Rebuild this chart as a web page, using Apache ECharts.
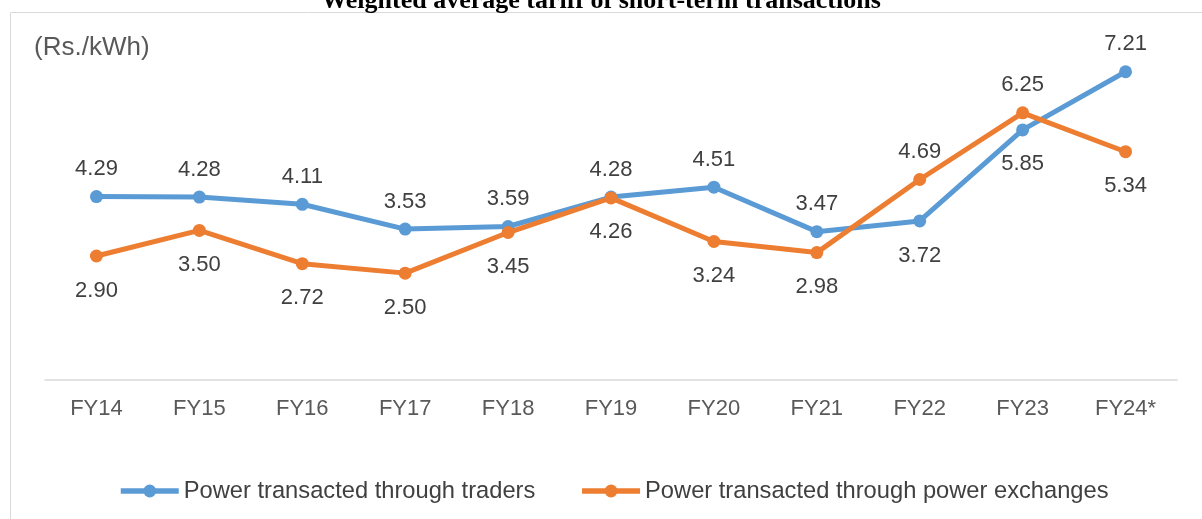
<!DOCTYPE html>
<html>
<head>
<meta charset="utf-8">
<script src="https://cdn.jsdelivr.net/npm/echarts@6/dist/echarts.min.js"></script>
<style>
  html, body { margin: 0; padding: 0; background: #fff; }
  #chart { width: 1202px; height: 519px; }
</style>
</head>
<body>
<div id="chart"></div>
<script>
const categories = ["FY14", "FY15", "FY16", "FY17", "FY18", "FY19", "FY20", "FY21", "FY22", "FY23", "FY24*"];
const traders = [4.29, 4.28, 4.11, 3.53, 3.59, 4.28, 4.51, 3.47, 3.72, 5.85, 7.21];
const exchanges = [2.90, 3.50, 2.72, 2.50, 3.45, 4.26, 3.24, 2.98, 4.69, 6.25, 5.34];
// label below/above for each point
const tradersBelow = [false, false, false, false, false, false, false, false, true, true, false];
const exchangesBelow = [true, true, true, true, true, true, true, true, false, false, true];

const labelStyle = {
  show: true,
  fontFamily: "Liberation Sans",
  fontSize: 22,
  color: "#404040",
  formatter: (p) => p.value.toFixed(2),
};

function withLabels(values, below) {
  return values.map((v, i) => ({
    value: v,
    label: { position: below[i] ? "bottom" : "top", distance: below[i] ? 17 : 10 },
  }));
}

const chart = echarts.init(document.getElementById("chart"));
chart.setOption({
  animation: false,
  textStyle: { fontFamily: "Liberation Sans" },
  title: {
    text: "Weighted average tariff of short-term transactions",
    left: "center",
    top: -17,
    textStyle: { fontFamily: "Liberation Serif", fontWeight: "bold", fontSize: 26, color: "#000" },
  },
  graphic: [
    {
      type: "rect",
      shape: { x: 10.5, y: 12.5, width: 1300, height: 600 },
      style: { fill: "none", stroke: "#d9d9d9", lineWidth: 1 },
      silent: true,
      z: -1,
    },
    {
      type: "text",
      left: 34,
      top: 35,
      style: { text: "(Rs./kWh)", fontFamily: "Liberation Sans", fontSize: 26, fill: "#595959" },
    },
  ],
  grid: { left: 45, right: 25, top: 38, bottom: 139 },
  legend: {
    left: 113,
    top: 474,
    itemWidth: 58,
    itemHeight: 16,
    itemGap: 44,
    lineStyle: { width: 5.5 },
    textStyle: { fontFamily: "Liberation Sans", fontSize: 23.7, color: "#404040" },
  },
  xAxis: {
    type: "category",
    data: categories,
    axisTick: { show: false },
    axisLine: { lineStyle: { color: "#d9d9d9", width: 1.5 } },
    axisLabel: { fontFamily: "Liberation Sans", fontSize: 22, color: "#595959", margin: 18 },
  },
  yAxis: {
    type: "value",
    min: 0,
    max: 8,
    show: false,
    splitLine: { show: false },
  },
  series: [
    {
      name: "Power transacted through traders",
      type: "line",
      data: withLabels(traders, tradersBelow),
      symbol: "circle",
      symbolSize: 13,
      itemStyle: { color: "#5B9BD5" },
      lineStyle: { width: 5, color: "#5B9BD5" },
      label: labelStyle,
    },
    {
      name: "Power transacted through power exchanges",
      type: "line",
      data: withLabels(exchanges, exchangesBelow),
      symbol: "circle",
      symbolSize: 13,
      itemStyle: { color: "#ED7D31" },
      lineStyle: { width: 5, color: "#ED7D31" },
      label: labelStyle,
    },
  ],
});
</script>
</body>
</html>
